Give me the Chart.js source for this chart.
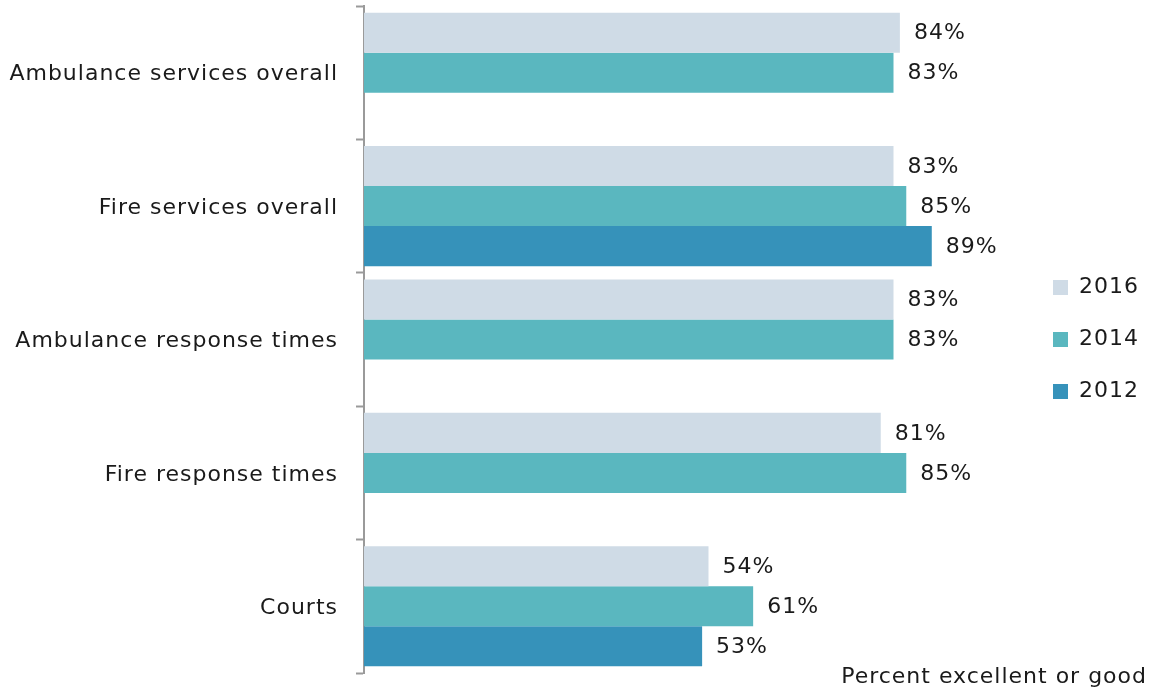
<!DOCTYPE html>
<html>
<head>
<meta charset="utf-8">
<script src="https://cdn.jsdelivr.net/npm/chart.js@4"></script>
<style>
  html, body { margin: 0; padding: 0; background: #fff; }
  #wrap { width: 1157px; height: 690px; }
</style>
</head>
<body>
<div id="wrap"><canvas id="chartSatisfaction"></canvas></div>
<script>
const categories = ["Ambulance services overall", "Fire services overall", "Ambulance response times", "Fire response times", "Courts"];
const values2016 = [84, 83, 83, 81, 54];
const values2014 = [83, 85, 83, 85, 61];
const values2012 = [null, 89, null, null, 53];
const seriesNames = ["2016", "2014", "2012"];
const axisTitle = "Percent excellent or good";

const fontFamily = "'DejaVu Sans', sans-serif";
const fontSize = 22;
const textColor = "#1a1a1a";

// a bit of tracking so the text is as wide as the original face
const wideText = {
    id: "wideText",
    beforeDraw(chart) {
        chart.ctx.letterSpacing = "1px";
    }
};

// value labels at the end of each bar
const barLabels = {
    id: "barLabels",
    afterDatasetsDraw(chart) {
        const ctx = chart.ctx;
        ctx.save();
        ctx.font = fontSize + "px " + fontFamily;
        ctx.fillStyle = textColor;
        ctx.textAlign = "left";
        ctx.textBaseline = "middle";
        chart.data.datasets.forEach((ds, i) => {
            const meta = chart.getDatasetMeta(i);
            meta.data.forEach((bar, j) => {
                const v = ds.data[j];
                if (v === null || v === undefined) return;
                ctx.fillText(v + "%", bar.x + 14, bar.y + 1);
            });
        });
        ctx.restore();
    }
};

// axis caption, bottom right corner
const bottomCaption = {
    id: "bottomCaption",
    afterDraw(chart) {
        const ctx = chart.ctx;
        ctx.save();
        ctx.font = fontSize + "px " + fontFamily;
        ctx.fillStyle = textColor;
        ctx.textAlign = "right";
        ctx.textBaseline = "middle";
        ctx.fillText(axisTitle, chart.width - 10, chart.chartArea.bottom + 4);
        ctx.restore();
    }
};

const ctx = document.getElementById("chartSatisfaction").getContext("2d");
const chart = new Chart(ctx, {
    type: "bar",
    data: {
        labels: categories,
        datasets: [
            { label: seriesNames[0], data: values2016, backgroundColor: "#cfdbe6" },
            { label: seriesNames[1], data: values2014, backgroundColor: "#5ab7bf" },
            { label: seriesNames[2], data: values2012, backgroundColor: "#3692ba" }
        ]
    },
    options: {
        indexAxis: "y",
        responsive: true,
        maintainAspectRatio: false,
        animation: false,
        layout: { padding: { top: 6, bottom: 17, left: 0, right: 12 } },
        datasets: {
            bar: { categoryPercentage: 0.9, barPercentage: 1.0, borderWidth: 0 }
        },
        plugins: {
            legend: {
                position: "right",
                fullSize: false,
                labels: {
                    boxWidth: 15,
                    boxHeight: 15,
                    padding: 30,
                    color: textColor,
                    font: { family: fontFamily, size: fontSize }
                }
            },
            tooltip: { enabled: false }
        },
        scales: {
            x: {
                display: false,
                min: 0,
                max: 103.3
            },
            y: {
                grid: {
                    offset: true,
                    drawOnChartArea: false,
                    drawTicks: true,
                    tickLength: 8,
                    tickWidth: 2,
                    color: "#9a9a9a"
                },
                border: { display: true, color: "#9a9a9a", width: 2 },
                ticks: {
                    padding: 18,
                    labelOffset: 2,
                    color: textColor,
                    font: { family: fontFamily, size: fontSize }
                },
                afterFit: function(scale) {
                    scale.width = 364;
                    scale.paddingTop = 0;
                    scale.paddingBottom = 0;
                }
            }
        }
    },
    plugins: [wideText, barLabels, bottomCaption]
});
</script>
</body>
</html>
